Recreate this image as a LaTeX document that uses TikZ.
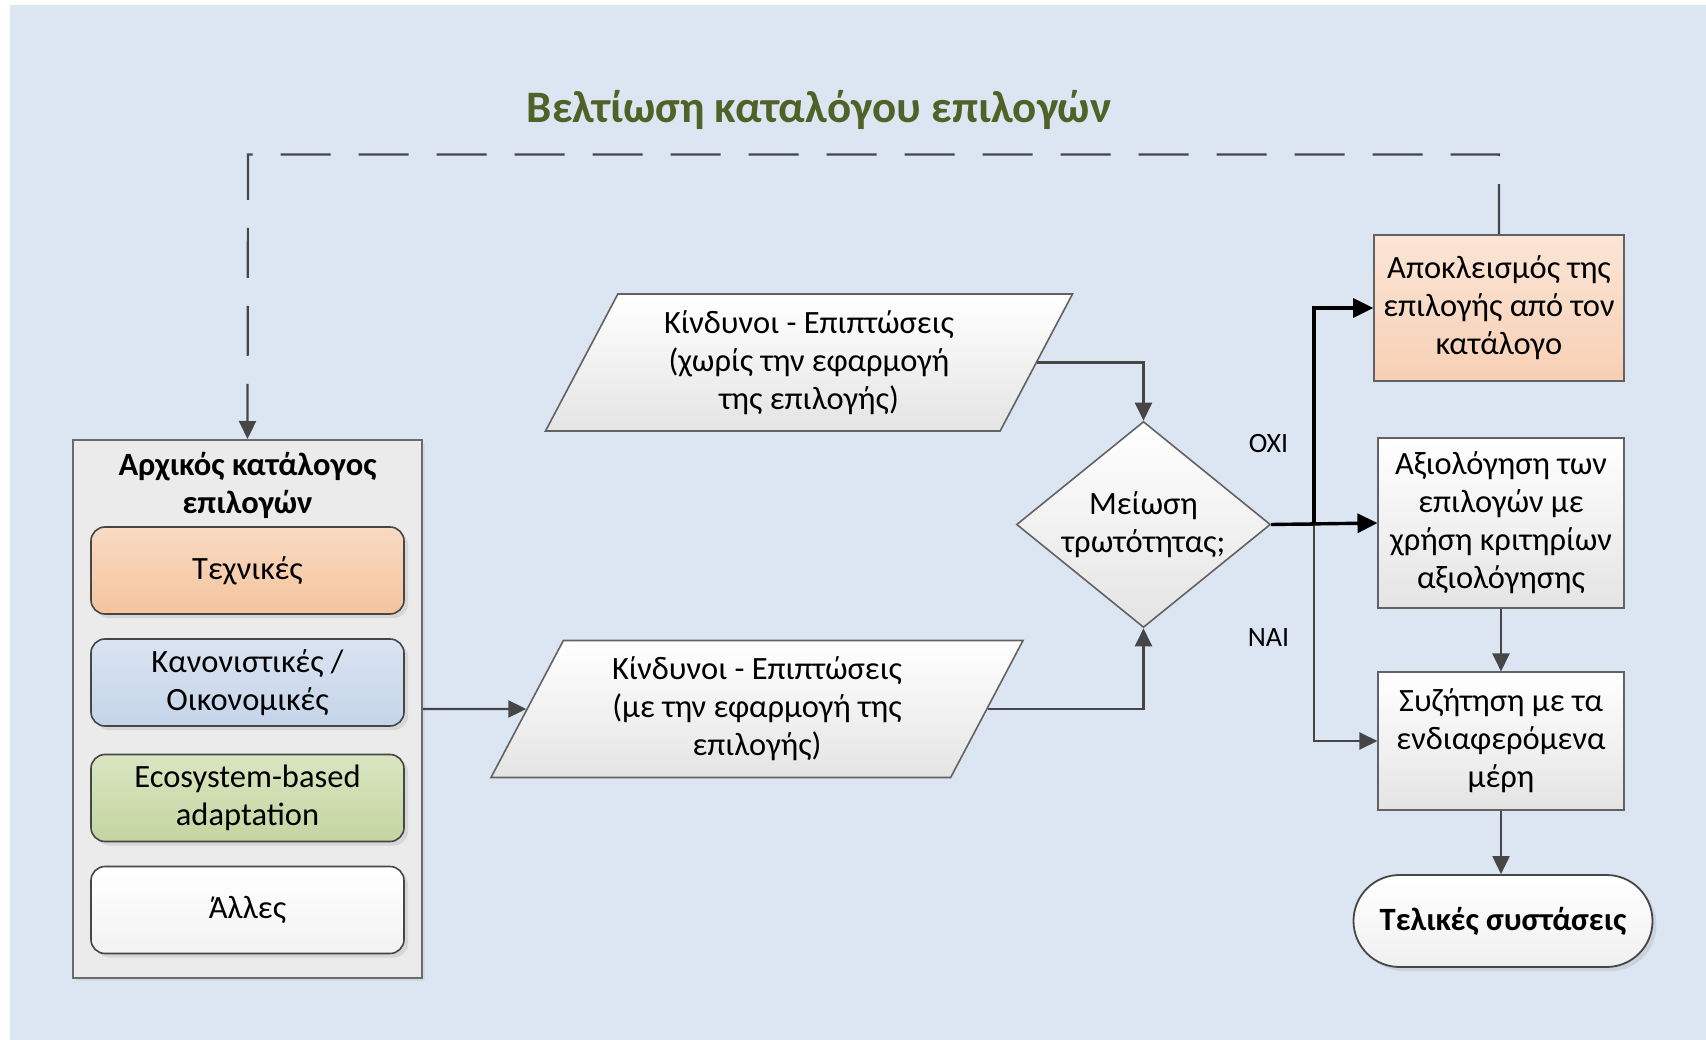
\documentclass[tikz,border=0pt]{standalone}
\usepackage{fontspec}
\setmainfont{Carlito}
\usetikzlibrary{arrows.meta,shapes.geometric,shadows}

\definecolor{bgblue}{RGB}{220,230,242}
\definecolor{edgegray}{RGB}{70,70,70}
\definecolor{titlegreen}{RGB}{79,98,40}
\definecolor{peachtop}{RGB}{248,218,195}
\definecolor{peachbot}{RGB}{244,196,157}
\definecolor{bluetop}{RGB}{218,228,241}
\definecolor{bluebot}{RGB}{196,212,233}
\definecolor{greentop}{RGB}{218,229,193}
\definecolor{greenbot}{RGB}{196,213,160}
\definecolor{excltop}{RGB}{251,229,214}
\definecolor{exclbot}{RGB}{247,208,180}
\definecolor{paleg}{RGB}{228,228,228}

\tikzset{
  txt/.style={font=\fontsize{32.5}{38}\selectfont, align=center, text=black},
  boldtxt/.style={font=\bfseries\fontsize{32.5}{38}\selectfont, align=center, text=black},
  softshadow/.style={drop shadow={opacity=0.18, shadow xshift=4pt, shadow yshift=-4pt}},
  option/.style={txt, draw=edgegray, line width=1.6pt, rounded corners=14pt,
    minimum width=313pt, minimum height=87pt, inner sep=0pt, softshadow},
  plainbox/.style={txt, draw=edgegray!85, line width=1.6pt, inner sep=0pt,
    top color=white, bottom color=paleg},
  datashape/.style={txt, draw=edgegray!85, line width=1.6pt, trapezium,
    trapezium left angle=55.2, trapezium right angle=124.8,
    trapezium stretches body, inner sep=0pt, minimum height=137pt,
    top color=white, bottom color=paleg},
  flow/.style={draw=edgegray, line width=2.2pt, -{Triangle[length=18pt,width=17pt]}},
  strongflow/.style={draw=black, line width=3.4pt, -{Triangle[length=20pt,width=19pt]}},
  label/.style={font=\fontsize{28}{32}\selectfont, text=black}
}

\begin{document}
\begin{tikzpicture}[x=1pt,y=-1pt]
\useasboundingbox (0,0) rectangle (1706,1040);
\fill[white] (0,0) rectangle (1706,1040);
\fill[bgblue] (10,5) rectangle (1706,1040);

% heading of the feedback loop
\node[font=\bfseries\fontsize{45}{50}\selectfont, text=titlegreen] (loop) at (819,110) {Βελτίωση καταλόγου επιλογών};

% initial catalogue of options
\node[draw=edgegray!80, line width=2pt, fill=black!8, minimum width=349pt,
      minimum height=538pt, inner sep=0pt,
      drop shadow={opacity=0.12, shadow xshift=3pt, shadow yshift=-3pt}] (cat) at (247.5,709) {};
\node[boldtxt] (cattitle) at (247.5,485) {Αρχικός κατάλογος\\επιλογών};
\node[option, top color=peachtop, bottom color=peachbot] (tech) at (247.5,570.5) {Τεχνικές};
\node[option, top color=bluetop, bottom color=bluebot] (reg) at (247.5,682.5) {Κανονιστικές /\\Οικονομικές};
\node[option, top color=greentop, bottom color=greenbot] (eco) at (247.5,798) {Ecosystem-based\\adaptation};
\node[option, top color=white, bottom color=black!5] (other) at (247.5,910) {Άλλες};

% risk assessments
\node[datashape, minimum width=527pt] (without) at (809,362.5)
  {Κίνδυνοι - Επιπτώσεις\\(χωρίς την εφαρμογή\\της επιλογής)};
\node[datashape, minimum width=532pt] (with) at (757,709)
  {Κίνδυνοι - Επιπτώσεις\\(με την εφαρμογή της\\επιλογής)};

% decision
\node[txt, diamond, aspect=1.23, draw=edgegray!85, line width=1.6pt, minimum width=254pt,
      minimum height=206pt, inner sep=0pt, top color=white, bottom color=paleg] (dec) at (1143.5,524.5)
  {Μείωση\\τρωτότητας;};

% outcomes
\node[txt, draw=edgegray!85, line width=1.6pt, inner sep=0pt, minimum width=250pt,
      minimum height=146pt, top color=excltop, bottom color=exclbot] (excl) at (1499,308)
  {Αποκλεισμός της\\επιλογής από τον\\κατάλογο};
\node[plainbox, minimum width=245.5pt, minimum height=169.5pt] (eval) at (1501,523)
  {Αξιολόγηση των\\επιλογών με\\χρήση κριτηρίων\\αξιολόγησης};
\node[plainbox, minimum width=245.5pt, minimum height=137.5pt] (talk) at (1501,741)
  {Συζήτηση με τα\\ενδιαφερόμενα\\μέρη};
\node[boldtxt, draw=edgegray, line width=1.8pt, rounded corners=46pt, minimum width=299pt,
      minimum height=92pt, inner sep=0pt, top color=white, bottom color=black!6, softshadow] (final) at (1503,921)
  {Τελικές συστάσεις};

% connectors
\draw[flow] (cat.east) -- (with.west);
\draw[flow] (without.east) -| (dec.north);
\draw[flow] (with.east) -| (dec.south);

\coordinate (split) at (1314,524.5);
\draw[strongflow] (dec.east) -- (eval.west);
\draw[strongflow] (split) |- (excl.west);
\draw[flow] (split) |- (talk.west);
\draw[line width=3.4pt] (dec.east) -- (split);

\draw[flow] (eval.south) -- (talk.north);
\draw[flow] (talk.south) -- (talk.south |- final.north);

\node[label] (no) at (1268.5,444) {ΟΧΙ};
\node[label] (yes) at (1268.5,637.5) {ΝΑΙ};

% feedback to the catalogue
\coordinate (loopr) at (1499,154.5);
\coordinate (loopl) at (248,154.5);
\draw[flow, dash pattern=on 50pt off 28pt] (excl.north) -- (loopr) -- (loopl) -- (cat.north);
\end{tikzpicture}
\end{document}
